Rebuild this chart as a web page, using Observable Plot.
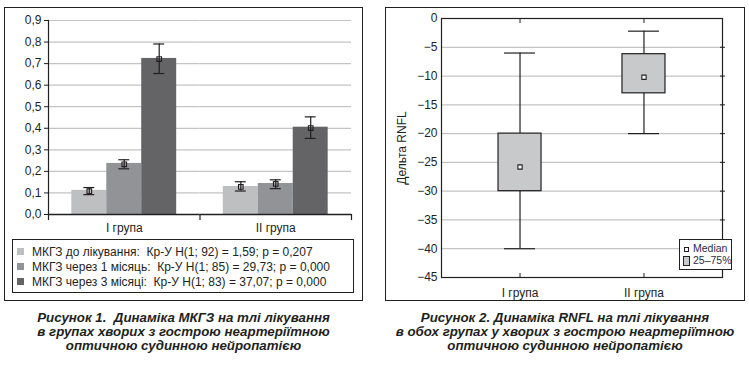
<!DOCTYPE html>
<html><head><meta charset="utf-8">
<script src="https://cdn.jsdelivr.net/npm/d3@7"></script>
<script src="https://cdn.jsdelivr.net/npm/@observablehq/plot@0.6"></script>
<style>
body{margin:0;background:#fff;font-family:"Liberation Sans",Arial,Helvetica,sans-serif;color:#231f20}
#root{position:relative;width:749px;height:365px;overflow:hidden;background:#fff}
.abs{position:absolute}
.box{position:absolute;border:1.5px solid #231f20;box-sizing:border-box}
.cap{position:absolute;text-align:center;font-weight:bold;font-style:italic;font-size:13.3px;line-height:14px;color:#231f20;white-space:pre}
.leg1{position:absolute;font-size:12px;white-space:pre;line-height:14px}
.sw{position:absolute;width:7px;height:7px}
.leg2{position:absolute;font-family:"Liberation Sans Narrow","Arial Narrow","Liberation Sans",sans-serif;font-size:10.5px;white-space:nowrap;color:#2b2b4a;line-height:12px}
</style></head>
<body><div id="root"></div>
<script>
// ---------- data: figure 1 ----------
const groups = ["I група", "II група"];
const series = ["МКГЗ до лікування", "МКГЗ через 1 місяць", "МКГЗ через 3 місяці"];
const seriesColors = ["#bebfc1", "#929396", "#646466"];
const barsI   = [0.112, 0.237, 0.724];
const barsII  = [0.130, 0.144, 0.405];
const midI    = [0.108, 0.233, 0.721];
const midII   = [0.128, 0.142, 0.401];
const loI     = [0.092, 0.212, 0.654];
const loII    = [0.109, 0.120, 0.353];
const hiI     = [0.125, 0.254, 0.791];
const hiII    = [0.152, 0.161, 0.453];
const stats   = ["Кр-У H(1; 92) = 1,59; p = 0,207", "Кр-У H(1; 85) = 29,73; p = 0,000", "Кр-У H(1; 83) = 37,07; p = 0,000"];
const yTicks1 = [0, 0.1, 0.2, 0.3, 0.4, 0.5, 0.6, 0.7, 0.8, 0.9];
const caption1 = ["Рисунок 1.  Динаміка МКГЗ на тлі лікування", "в групах хворих з гострою неартеріїтною", "оптичною судинною нейропатією"];

// ---------- data: figure 2 ----------
const boxGroups = ["I група", "II група"];
const whiskerMin = [-40, -20];
const whiskerMax = [-6, -2.2];
const q1 = [-30, -13];
const q3 = [-20, -6.2];
const medians = [-25.8, -10.2];
const yTicks2 = [0, -5, -10, -15, -20, -25, -30, -35, -40, -45];
const legend2 = ["Median", "25–75%"];
const caption2 = ["Рисунок 2. Динаміка RNFL на тлі лікування", "в обох групах у хворих з гострою неартеріїтною", "оптичною судинною нейропатією"];

const ink = "#231f20";
const gridColor = "#c4c4c4";
const root = document.getElementById("root");
function el(tag, cls, style, text) {
  const e = document.createElement(tag);
  if (cls) e.className = cls;
  if (style) e.setAttribute("style", style);
  if (text != null) e.textContent = text;
  root.appendChild(e);
  return e;
}

// panels
el("div", "box", "left:4px;top:7px;width:359px;height:294px");
el("div", "box", "left:385px;top:7px;width:360px;height:294px");

// ---------- figure 1 ----------
const rows1 = [];
const bars = [barsI, barsII], mids = [midI, midII], los = [loI, loII], his = [hiI, hiII];
groups.forEach((g, gi) => series.forEach((s, si) => rows1.push({
  group: g, series: s, value: bars[gi][si], mid: mids[gi][si], lo: los[gi][si], hi: his[gi][si]
})));
const fmt1 = d => d.toFixed(1).replace(".", ",");
const p1 = Plot.plot({
  width: 370, height: 240,
  marginLeft: 48, marginRight: 19, marginTop: 20, marginBottom: 26,
  style: {fontFamily: '"Liberation Sans", Arial, sans-serif', fontSize: "12px", color: ink, background: "transparent", overflow: "visible"},
  fx: {domain: groups, paddingInner: 0, paddingOuter: 0, round: false},
  x: {domain: series, paddingInner: 0, paddingOuter: 0.667, round: false, axis: null},
  y: {domain: [0, 0.9]},
  color: {domain: series, range: seriesColors},
  marks: [
    Plot.ruleY(yTicks1.slice(1), {stroke: gridColor, strokeWidth: 1.2}),
    Plot.barY(rows1, {fx: "group", x: "series", y: "value", fill: "series"}),
    Plot.ruleX(rows1, {fx: "group", x: "series", y1: "lo", y2: "hi", stroke: ink, strokeWidth: 1.2}),
    Plot.tickY(rows1, {fx: "group", x: "series", y: "lo", inset: 12, stroke: ink, strokeWidth: 1.2}),
    Plot.tickY(rows1, {fx: "group", x: "series", y: "hi", inset: 12, stroke: ink, strokeWidth: 1.2}),
    Plot.dot(rows1, {fx: "group", x: "series", y: "mid", symbol: "square", r: 2.6, stroke: ink, fill: "none", strokeWidth: 1.1}),
    Plot.ruleY([0], {stroke: ink, strokeWidth: 1.5}),
    Plot.frame({anchor: "left", facetAnchor: "left", stroke: ink, strokeWidth: 1.2}),
    Plot.frame({anchor: "left", insetTop: 194, insetBottom: -5, stroke: ink, strokeWidth: 1.2}),
    Plot.frame({anchor: "right", facetAnchor: "right", insetTop: 194, insetBottom: -5, stroke: ink, strokeWidth: 1.2}),
    Plot.axisY({anchor: "left", ticks: yTicks1, tickFormat: fmt1, tickSize: 4, tickPadding: 3, label: null, stroke: ink}),
    Plot.axisFx({anchor: "bottom", tickSize: 0, tickPadding: 9, label: null})
  ]
});
p1.style.position = "absolute"; p1.style.left = "0px"; p1.style.top = "0px";
root.appendChild(p1);

// legend 1
el("div", "box", "left:12px;top:239px;width:342px;height:54px");
series.forEach((s, i) => {
  const y = 245 + i * 15;
  el("div", "sw", `left:17px;top:${y + 3}px;background:${seriesColors[i]}`);
  el("div", "leg1", `left:32px;top:${y}px`, s + ":  " + stats[i]);
});
caption1.forEach((t, i) => el("div", "cap", `left:0px;width:367px;top:${311 + i * 14}px`, t));

// ---------- figure 2 ----------
const rows2 = boxGroups.map((g, i) => ({group: g, min: whiskerMin[i], max: whiskerMax[i], q1: q1[i], q3: q3[i], median: medians[i]}));
const p2 = Plot.plot({
  width: 374, height: 305,
  marginLeft: 66, marginRight: 27, marginTop: 18, marginBottom: 28,
  style: {fontFamily: '"Liberation Sans", Arial, sans-serif', fontSize: "12px", color: ink, background: "transparent", overflow: "visible"},
  x: {domain: boxGroups, type: "band", paddingInner: 0.653, paddingOuter: 0.46, round: false},
  y: {domain: [-45, 0]},
  marks: [
    Plot.ruleY(yTicks2.slice(1, -1), {stroke: gridColor, strokeWidth: 1.2}),
    Plot.ruleX(rows2, {x: "group", y1: "min", y2: "max", stroke: ink, strokeWidth: 1.2}),
    Plot.tickY(rows2, {x: "group", y: "min", inset: 6, stroke: ink, strokeWidth: 1.2}),
    Plot.tickY(rows2, {x: "group", y: "max", inset: 6, stroke: ink, strokeWidth: 1.2}),
    Plot.barY(rows2, {x: "group", y1: "q1", y2: "q3", fill: "#c8c9cb", stroke: ink, strokeWidth: 1.2}),
    Plot.dot(rows2, {x: "group", y: "median", symbol: "square", r: 2.4, stroke: ink, fill: "#fff", strokeWidth: 1.1}),
    Plot.frame({stroke: ink, strokeWidth: 1.2}),
    Plot.axisY({anchor: "left", ticks: yTicks2, tickSize: 0, tickPadding: 4, label: "Дельта RNFL", labelAnchor: "center", labelArrow: "none", labelOffset: 44}),
    Plot.axisY({anchor: "right", ticks: yTicks2.slice(1, -1), tickSize: 2, tickFormat: () => "", label: null, stroke: ink}),
    Plot.axisY({anchor: "right", ticks: yTicks2.slice(1, -1), tickSize: -3, tickFormat: () => "", label: null, stroke: ink}),
    Plot.axisX({anchor: "top", tickSize: -4, tickFormat: () => "", label: null, stroke: ink}),
    Plot.axisX({anchor: "bottom", tickSize: -4, tickFormat: () => "", label: null, stroke: ink}),
    Plot.axisX({anchor: "bottom", tickSize: 0, tickPadding: 11, label: null})
  ]
});
p2.style.position = "absolute"; p2.style.left = "375px"; p2.style.top = "0px";
root.appendChild(p2);

// legend 2
el("div", "box", "left:679px;top:239px;width:53px;height:31px;border-width:1px;background:#fff");
el("div", "abs", `left:684px;top:247px;width:3px;height:3px;border:1px solid ${ink};background:#fff`);
el("div", "leg2", "left:693px;top:242px", legend2[0]);
el("div", "abs", `left:683px;top:256px;width:5px;height:8px;border:1px solid ${ink};background:#c8c9cb`);
el("div", "leg2", "left:693px;top:254px", legend2[1]);
caption2.forEach((t, i) => el("div", "cap", `left:385px;width:360px;top:${311 + i * 14}px`, t));
</script>
</body></html>
